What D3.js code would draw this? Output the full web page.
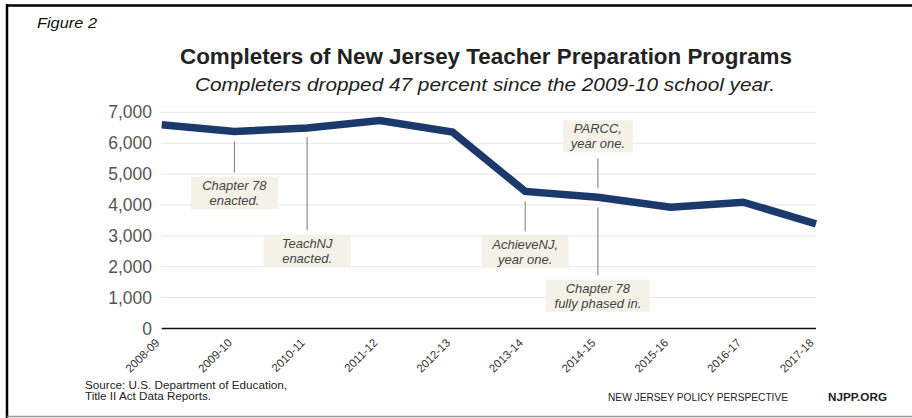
<!DOCTYPE html>
<html>
<head>
<meta charset="utf-8">
<script src="https://cdn.jsdelivr.net/npm/d3@7"></script>
<style>
  html, body { margin: 0; padding: 0; background: #fff; }
  svg { display: block; font-family: "Liberation Sans", Arial, sans-serif; }
</style>
</head>
<body>
<svg id="chart" width="912" height="418"></svg>
<script>
// School years and program completers
const years = ["2008-09","2009-10","2010-11","2011-12","2012-13","2013-14","2014-15","2015-16","2016-17","2017-18"];
const completers = [6600, 6380, 6490, 6730, 6360, 4440, 4250, 3930, 4090, 3390];
const yTicks = [0, 1000, 2000, 3000, 4000, 5000, 6000, 7000];

// Policy milestones: year, label lines, which side of the line the note sits
const notes = [
  { year: "2009-10", lines: ["Chapter 78", "enacted."], side: "below", gap: 10, len: 31, w: 87 },
  { year: "2010-11", lines: ["TeachNJ", "enacted."], side: "below", gap: 9, len: 93, w: 87 },
  { year: "2013-14", lines: ["AchieveNJ,", "year one."], side: "below", gap: 10, len: 30, w: 87 },
  { year: "2014-15", lines: ["PARCC,", "year one."], side: "above", gap: 9, len: 30, w: 70 },
  { year: "2014-15", lines: ["Chapter 78", "fully phased in."], side: "below", gap: 10, len: 68, w: 104 }
];

const svg = d3.select("#chart");

// Frame
svg.append("line").attr("x1", 7).attr("x2", 912).attr("y1", 5.5).attr("y2", 5.5)
  .attr("stroke", "#000").attr("stroke-width", 2.5);
svg.append("line").attr("x1", 7).attr("x2", 7).attr("y1", 4).attr("y2", 418)
  .attr("stroke", "#000").attr("stroke-width", 2.5);
svg.append("line").attr("x1", 7).attr("x2", 912).attr("y1", 416.5).attr("y2", 416.5)
  .attr("stroke", "#999").attr("stroke-width", 1.5);

svg.append("text").attr("x", 37).attr("y", 27.5)
  .attr("font-size", 14).attr("font-style", "italic").attr("fill", "#111")
  .attr("textLength", 60).attr("lengthAdjust", "spacingAndGlyphs")
  .text("Figure 2");

svg.append("text").attr("x", 180).attr("y", 63.5)
  .attr("font-size", 21.5).attr("font-weight", "bold").attr("fill", "#222")
  .attr("textLength", 612).attr("lengthAdjust", "spacingAndGlyphs")
  .text("Completers of New Jersey Teacher Preparation Programs");
svg.append("text").attr("x", 195).attr("y", 91)
  .attr("font-size", 18.5).attr("font-style", "italic").attr("fill", "#222")
  .attr("textLength", 580).attr("lengthAdjust", "spacingAndGlyphs")
  .text("Completers dropped 47 percent since the 2009-10 school year.");

// Scales
const x = d3.scalePoint().domain(years).range([161.7, 816]);
const y = d3.scaleLinear().domain([0, 7000]).range([328.5, 112.3]);

// Gridlines
svg.append("g").selectAll("line").data(yTicks.filter(d => d > 0)).join("line")
  .attr("x1", 161).attr("x2", 816)
  .attr("y1", d => y(d)).attr("y2", d => y(d))
  .attr("stroke", "#e6e6e6").attr("stroke-width", 1);

// Y axis labels
const yAxis = svg.append("g").attr("transform", "translate(161,0)")
  .call(d3.axisLeft(y).tickValues(yTicks).tickSize(0).tickPadding(9).tickFormat(d3.format(",")));
yAxis.select(".domain").remove();
yAxis.selectAll("text").attr("font-size", 17.5).attr("fill", "#555")
  .attr("font-family", "'Liberation Sans', Arial, sans-serif");

// X axis
const xAxis = svg.append("g").attr("transform", `translate(0,${y(0)})`)
  .call(d3.axisBottom(x).tickSize(0).tickPadding(0));
xAxis.select(".domain").attr("stroke", "#111").attr("stroke-width", 1.5)
  .attr("d", `M${x(years[0])},0H${x(years[years.length - 1])}`);
xAxis.selectAll(".tick text")
  .attr("font-size", 11.5).attr("fill", "#333")
  .attr("font-family", "'Liberation Sans', Arial, sans-serif")
  .attr("text-anchor", "end")
  .attr("dy", 0)
  .attr("transform", "translate(-2,15) rotate(-45)");

// Data line
const line = d3.line().x((d, i) => x(years[i])).y(d => y(d));
svg.append("path").datum(completers)
  .attr("d", line)
  .attr("fill", "none")
  .attr("stroke", "#1b3a6b")
  .attr("stroke-width", 7.5)
  .attr("stroke-linejoin", "miter");

// Annotations
const g = svg.append("g");
notes.forEach(n => {
  const cx = x(n.year);
  const cy = y(completers[years.indexOf(n.year)]);
  const boxH = 32;
  let y1, y2, boxY;
  if (n.side === "below") {
    y1 = cy + n.gap; y2 = y1 + n.len; boxY = y2 + 4.5;
  } else {
    y2 = cy - n.gap; y1 = y2 - n.len; boxY = y1 - 6 - boxH;
  }
  g.append("line").attr("x1", cx).attr("x2", cx).attr("y1", y1).attr("y2", y2)
    .attr("stroke", "#777").attr("stroke-width", 1);
  g.append("rect").attr("x", cx - n.w / 2).attr("y", boxY).attr("width", n.w).attr("height", boxH)
    .attr("fill", "#f4f2e7");
  n.lines.forEach((t, i) => {
    g.append("text").attr("x", cx).attr("y", boxY + 13 + i * 15)
      .attr("text-anchor", "middle").attr("font-size", 13).attr("font-style", "italic")
      .attr("fill", "#444").text(t);
  });
});

// Footer
svg.append("text").attr("x", 85).attr("y", 389).attr("font-size", 10.5).attr("fill", "#222")
  .attr("textLength", 202).attr("lengthAdjust", "spacingAndGlyphs")
  .text("Source: U.S. Department of Education,");
svg.append("text").attr("x", 85).attr("y", 400).attr("font-size", 10.5).attr("fill", "#222")
  .attr("textLength", 126).attr("lengthAdjust", "spacingAndGlyphs")
  .text("Title II Act Data Reports.");
svg.append("text").attr("x", 608).attr("y", 401).attr("font-size", 10).attr("fill", "#222")
  .attr("textLength", 180).attr("lengthAdjust", "spacingAndGlyphs")
  .text("NEW JERSEY POLICY PERSPECTIVE");
svg.append("text").attr("x", 828).attr("y", 401).attr("font-size", 10.5).attr("font-weight", "bold")
  .attr("fill", "#222").attr("textLength", 59).attr("lengthAdjust", "spacingAndGlyphs")
  .text("NJPP.ORG");
</script>
</body>
</html>
